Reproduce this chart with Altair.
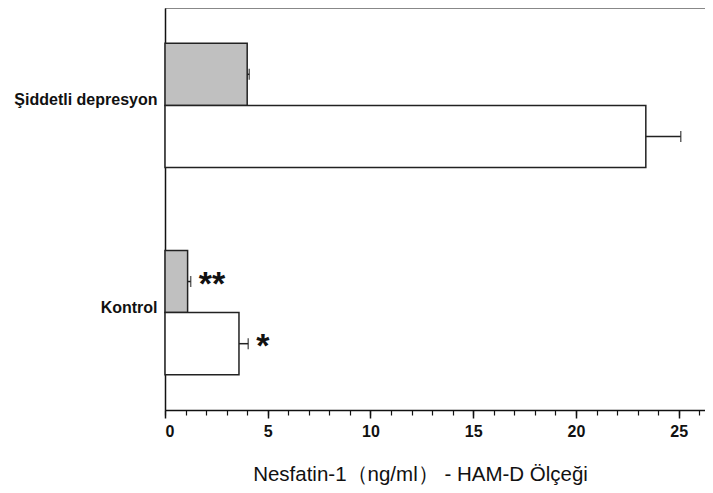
import altair as alt
import pandas as pd

groups = ["Şiddetli depresyon", "Şiddetli depresyon", "Kontrol", "Kontrol"]
series = ["Nesfatin-1 (ng/ml)", "HAM-D Ölçeği", "Nesfatin-1 (ng/ml)", "HAM-D Ölçeği"]
values = [4.0, 23.4, 1.1, 3.6]
errors = [0.1, 1.7, 0.15, 0.45]
stars = ["", "", "**", "*"]

group_order = ["Şiddetli depresyon", "Kontrol"]
series_order = ["Nesfatin-1 (ng/ml)", "HAM-D Ölçeği"]
major_ticks = [0, 5, 10, 15, 20, 25]
minor_ticks = list(range(0, 27))

df = pd.DataFrame({"group": groups, "series": series, "value": values,
                   "err": errors, "star": stars})
df["upper"] = df["value"] + df["err"]

FONT = "Liberation Sans"
xscale = alt.Scale(domain=[0, 26.28], nice=False, zero=True)
yenc = alt.Y("group:N", sort=group_order,
             scale=alt.Scale(paddingInner=0.4, paddingOuter=0.17),
             axis=alt.Axis(title=None, ticks=False, domainColor="#111", domainWidth=1.5,
                           labelFont=FONT, labelFontSize=16, labelColor="#111",
                           labelPadding=8, labelFontWeight="bold", labelOffset=-5))
yoff = alt.YOffset("series:N", sort=series_order,
                   scale=alt.Scale(paddingInner=0, paddingOuter=0))

base = alt.Chart(df)

bars = base.mark_bar(stroke="#222", strokeWidth=1.5).encode(
    x=alt.X("value:Q", scale=xscale,
            axis=alt.Axis(orient="bottom", values=minor_ticks, tickSize=5,
                          labels=False, title=None, grid=False,
                          domainColor="#111", domainWidth=1.5,
                          tickColor="#111", tickWidth=1.2)),
    y=yenc,
    yOffset=yoff,
    color=alt.Color("series:N", scale=alt.Scale(domain=series_order,
                                                range=["#c0c0c0", "#ffffff"]),
                    legend=None),
)

err_line = base.mark_rule(color="#222", strokeWidth=1.5).encode(
    x=alt.X("value:Q", scale=xscale,
            axis=alt.Axis(orient="bottom", values=major_ticks, tickSize=8, grid=False,
                          domain=False, tickColor="#111", tickWidth=1.5,
                          labelFont=FONT, labelFontSize=16, labelFontWeight="bold",
                          labelColor="#111", labelPadding=5,
                          title="Nesfatin-1（ng/ml） - HAM-D Ölçeği",
                          titleFont=FONT, titleFontSize=20.5, titleFontWeight="normal",
                          titleColor="#111", titleX=255, titleY=64,
                          titleAlign="center", titleBaseline="middle")),
    x2="upper:Q",
    y=yenc,
    yOffset=yoff,
)

caps = base.mark_tick(color="#222", thickness=1.5, size=11).encode(
    x=alt.X("upper:Q", scale=xscale),
    y=yenc,
    yOffset=yoff,
)

star_text = base.mark_text(align="left", baseline="alphabetic", dx=8, dy=13,
                           font=FONT, fontSize=34, fontWeight="bold",
                           color="#111").encode(
    x=alt.X("upper:Q", scale=xscale),
    y=yenc,
    yOffset=yoff,
    text="star:N",
)

chart = alt.layer(bars, err_line, caps, star_text).resolve_axis(
    x="independent").resolve_scale(x="shared").properties(
    width=540, height=402,
    autosize=alt.AutoSizeParams(type="none"),
    padding={"left": 157, "top": 0, "right": 0, "bottom": 80},
).configure_view(stroke=None).configure(background="white")

chart.save("out.html", embed_options={"renderer": "svg", "actions": False})
